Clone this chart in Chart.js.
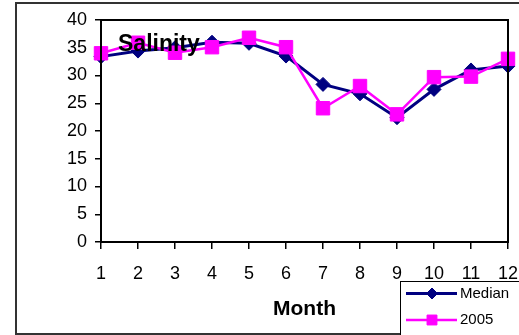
<!DOCTYPE html>
<html>
<head>
<meta charset="utf-8">
<script src="https://cdn.jsdelivr.net/npm/chart.js@4/dist/chart.umd.min.js"></script>
<style>
  html, body { margin: 0; padding: 0; background: #fff; overflow: hidden; }
  #wrap { position: relative; width: 519px; height: 335px; overflow: hidden; }
  #frame { position: absolute; left: 15px; top: 2px; width: 540px; height: 329px;
           border: 2px solid #333; box-sizing: content-box; }
  canvas { position: absolute; left: 0; top: 0; }
</style>
</head>
<body>
<div id="wrap">
  <div id="frame"></div>
  <canvas id="c" width="519" height="335"></canvas>
</div>
<script>
// Monthly salinity: long-term median versus 2005
const months = ['1', '2', '3', '4', '5', '6', '7', '8', '9', '10', '11', '12'];
const medianValues = [33.4, 34.4, 35.0, 36.0, 35.8, 33.5, 28.4, 26.7, 22.4, 27.5, 31.0, 31.7];
const values2005 = [34.0, 35.9, 34.1, 35.1, 36.8, 35.1, 24.1, 28.1, 23.0, 29.7, 29.8, 33.0];
const yTicks = [0, 5, 10, 15, 20, 25, 30, 35, 40];

const FONT = '"Liberation Sans", Arial, Helvetica, sans-serif';

// Box round the plotting area, the in-plot title and the legend
const decorations = {
  id: 'decorations',
  afterDatasetsDraw(chart) {
    const { ctx, chartArea: a } = chart;
    ctx.save();
    ctx.strokeStyle = '#000';
    ctx.lineWidth = 2;
    ctx.strokeRect(a.left, a.top, a.right - a.left, a.bottom - a.top);

    ctx.fillStyle = '#000';
    ctx.font = 'bold 23px ' + FONT;
    ctx.textBaseline = 'alphabetic';
    ctx.textAlign = 'left';
    ctx.fillText('Salinity', 118, 50.5);
    ctx.restore();
  },
  afterDraw(chart) {
    const { ctx } = chart;
    ctx.save();
    ctx.fillStyle = '#fff';
    ctx.fillRect(400, 281, 160, 60);
    ctx.strokeStyle = '#000';
    ctx.lineWidth = 1;
    ctx.strokeRect(400.5, 281.5, 160, 60);

    const rows = [chart.data.datasets[1], chart.data.datasets[0]];
    rows.forEach((ds, i) => {
      const y = 293.5 + i * 26.5;
      ctx.strokeStyle = ds.borderColor;
      ctx.lineWidth = ds.borderWidth;
      ctx.beginPath();
      ctx.moveTo(406, y);
      ctx.lineTo(457, y);
      ctx.stroke();
      ctx.fillStyle = ds.backgroundColor;
      ctx.strokeStyle = ds.borderColor;
      ctx.lineWidth = 1;
      Chart.helpers.drawPoint(ctx, {
        pointStyle: ds.pointStyle,
        radius: ds.legendRadius,
        borderWidth: 1
      }, 432, y);
      ctx.fillStyle = '#000';
      ctx.font = '15px ' + FONT;
      ctx.textBaseline = 'middle';
      ctx.textAlign = 'left';
      ctx.fillText(ds.label, 460, y);
    });
    ctx.restore();
  }
};

new Chart(document.getElementById('c'), {
  type: 'line',
  data: {
    labels: months,
    datasets: [
      {
        label: '2005',
        data: values2005,
        borderColor: '#ff00ff',
        backgroundColor: '#ff00ff',
        borderWidth: 2.5,
        pointStyle: 'rect',
        pointRadius: 9.5,
        pointBorderWidth: 1,
        legendRadius: 7,
        tension: 0,
        clip: false,
        order: 1
      },
      {
        label: 'Median',
        data: medianValues,
        borderColor: '#000080',
        backgroundColor: '#000080',
        borderWidth: 3,
        pointStyle: 'rectRot',
        pointRadius: 7,
        pointBorderWidth: 1,
        legendRadius: 5.5,
        tension: 0,
        clip: false,
        order: 2
      }
    ]
  },
  options: {
    responsive: false,
    animation: false,
    devicePixelRatio: 1,
    layout: { padding: { left: 0, right: 11, top: 20, bottom: 0 } },
    plugins: {
      legend: { display: false },
      title: { display: false },
      tooltip: { enabled: false }
    },
    scales: {
      x: {
        type: 'category',
        offset: false,
        grid: { drawOnChartArea: false, drawTicks: true, tickLength: 7, color: '#000', lineWidth: 1.5 },
        border: { display: true, color: '#000', width: 2 },
        ticks: { color: '#000', font: { family: FONT, size: 18 }, padding: 14, maxRotation: 0, autoSkip: false },
        title: { display: true, text: 'Month', color: '#000',
                 font: { family: FONT, size: 21, weight: 'bold' }, padding: { top: 0, bottom: 13 } },
        afterFit(scale) {
          scale.height = 93;
          scale.paddingLeft = 0;
          scale.paddingRight = 0;
        }
      },
      y: {
        min: 0,
        max: 40,
        afterBuildTicks(scale) { scale.ticks = yTicks.map(v => ({ value: v })); },
        grid: { drawOnChartArea: false, drawTicks: true, tickLength: 6, color: '#000', lineWidth: 1.5 },
        border: { display: true, color: '#000', width: 2 },
        ticks: { color: '#000', font: { family: FONT, size: 18 }, padding: 8 },
        afterFit(scale) {
          scale.width = 101;
          scale.paddingTop = 0;
          scale.paddingBottom = 0;
        }
      }
    }
  },
  plugins: [decorations]
});
</script>
</body>
</html>
